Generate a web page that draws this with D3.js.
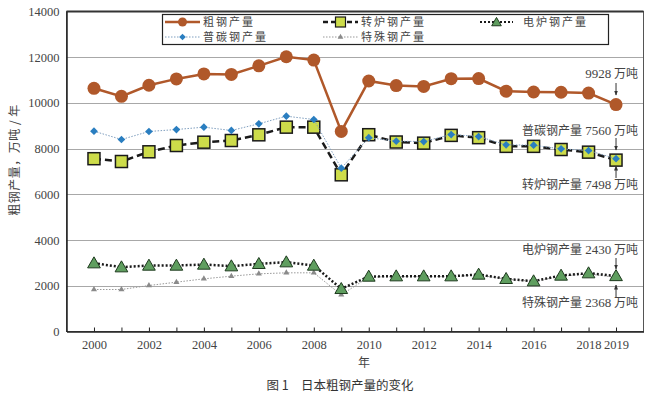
<!DOCTYPE html>
<html>
<head>
<meta charset="utf-8">
<script src="https://cdn.jsdelivr.net/npm/d3@7"></script>
<style>
	body { margin: 0; background: #fff; }
	.cn { font-family: "Noto Sans CJK SC", sans-serif; }
	.num { font-family: "Liberation Serif", "DejaVu Serif", serif; }
</style>
</head>
<body>
<div id="chart"></div>
<script>
// Data (万吨)
let years = [2000, 2001, 2002, 2003, 2004, 2005, 2006, 2007, 2008, 2009,
	2010, 2011, 2012, 2013, 2014, 2015, 2016, 2017, 2018, 2019];
let crude = [10640, 10287, 10774, 11051, 11268, 11247, 11622, 12020, 11874, 8753,
	10960, 10760, 10723, 11060, 11067, 10513, 10478, 10466, 10433, 9928];
let bof = [7560, 7437, 7862, 8137, 8282, 8356, 8605, 8940, 8940, 6855,
	8610, 8290, 8240, 8580, 8480, 8100, 8100, 7962, 7846, 7498];
let ordinary = [8763, 8400, 8750, 8837, 8940, 8794, 9087, 9420, 9275, 7144,
	8480, 8326, 8312, 8618, 8531, 8170, 8150, 7990, 7918, 7560];
let eaf = [2989, 2814, 2887, 2887, 2931, 2858, 2960, 3033, 2887, 1866,
	2406, 2420, 2420, 2420, 2494, 2304, 2202, 2450, 2552, 2430];
let special = [1837, 1837, 2012, 2158, 2304, 2421, 2523, 2567, 2567, 1604,
	2380, 2400, 2400, 2400, 2470, 2290, 2190, 2420, 2520, 2368];
let yTicks = [0, 2000, 4000, 6000, 8000, 10000, 12000, 14000];
let xLabels = [2000, 2002, 2004, 2006, 2008, 2010, 2012, 2014, 2016, 2018, 2019];

let names = ["粗钢产量", "转炉钢产量", "电炉钢产量", "普碳钢产量", "特殊钢产量"];

let W = 654, H = 399;
let margin = {top: 11.5, right: 10.5, bottom: 67.5, left: 66.5};

let svg = d3.select("#chart").append("svg")
	.attr("width", W)
	.attr("height", H);

svg.append("rect").attr("width", W).attr("height", H).attr("fill", "#fff");

let x = d3.scaleLinear()
	.domain([1999, 2020])
	.range([margin.left, W - margin.right]);

let y = d3.scaleLinear()
	.domain([0, 14000])
	.range([H - margin.bottom, margin.top]);

// gridlines
svg.append("g")
	.selectAll("line")
	.data(yTicks.slice(1, -1))
	.enter()
	.append("line")
	.attr("x1", margin.left)
	.attr("x2", W - margin.right)
	.attr("y1", d => Math.round(y(d)) + 0.5)
	.attr("y2", d => Math.round(y(d)) + 0.5)
	.attr("stroke", "#a8a8a8")
	.attr("stroke-width", 1);

// plot frame
svg.append("rect")
	.attr("x", margin.left)
	.attr("y", margin.top)
	.attr("width", W - margin.right - margin.left)
	.attr("height", H - margin.bottom - margin.top)
	.attr("fill", "none")
	.attr("stroke", "#555")
	.attr("stroke-width", 1);
svg.append("line")
	.attr("x1", margin.left).attr("x2", W - margin.right)
	.attr("y1", margin.top).attr("y2", margin.top)
	.attr("stroke", "#333").attr("stroke-width", 2);

// y axis
let yAxis = d3.axisLeft(y)
	.tickValues(yTicks)
	.tickSize(0)
	.tickPadding(7)
	.tickFormat(d3.format("d"));

let gy = svg.append("g")
	.attr("transform", "translate(" + margin.left + ",0)")
	.call(yAxis);
gy.select(".domain").attr("stroke", "#222").attr("stroke-width", 1.5);
gy.selectAll("text")
	.attr("class", "num")
	.attr("font-size", 12.5)
	.attr("fill", "#444");

// x axis
let xAxis = d3.axisBottom(x)
	.tickValues(years)
	.tickSizeInner(-4)
	.tickSizeOuter(0)
	.tickPadding(9)
	.tickFormat(d => xLabels.includes(d) ? d : "");

let gx = svg.append("g")
	.attr("transform", "translate(0," + (H - margin.bottom) + ")")
	.call(xAxis);
gx.select(".domain").attr("stroke", "#222").attr("stroke-width", 1.5);
gx.selectAll("line").attr("stroke", "#222");
gx.selectAll("text")
	.attr("class", "num")
	.attr("font-size", 12.5)
	.attr("fill", "#444");

// axis titles
svg.append("text")
	.attr("class", "cn")
	.attr("transform", "translate(19,160)rotate(-90)")
	.attr("text-anchor", "middle")
	.attr("font-size", 12)
	.attr("letter-spacing", 0.5)
	.attr("fill", "#444")
	.text("粗钢产量，万吨 / 年");

svg.append("text")
	.attr("class", "cn")
	.attr("x", 364)
	.attr("y", 367)
	.attr("text-anchor", "middle")
	.attr("font-size", 12)
	.attr("fill", "#444")
	.text("年");

svg.append("text")
	.attr("class", "cn")
	.attr("x", 340)
	.attr("y", 390)
	.attr("text-anchor", "middle")
	.attr("font-size", 12.5)
	.attr("fill", "#333")
	.text("图 1　日本粗钢产量的变化");

// line generator
function lineOf(vals) {
	return d3.line()
		.x((d, i) => x(years[i]))
		.y(d => y(d))(vals);
}

// crude steel
svg.append("path")
	.attr("d", lineOf(crude))
	.attr("fill", "none")
	.attr("stroke", "#b0582a")
	.attr("stroke-width", 2.5);
svg.append("g").selectAll("circle")
	.data(crude)
	.enter()
	.append("circle")
	.attr("cx", (d, i) => x(years[i]))
	.attr("cy", d => y(d))
	.attr("r", 6.5)
	.attr("fill", "#b0582a");

// BOF steel
svg.append("path")
	.attr("d", lineOf(bof))
	.attr("fill", "none")
	.attr("stroke", "#1a1a1a")
	.attr("stroke-width", 2.5)
	.attr("stroke-dasharray", "7,4");
svg.append("g").selectAll("rect")
	.data(bof)
	.enter()
	.append("rect")
	.attr("x", (d, i) => x(years[i]) - 6)
	.attr("y", d => y(d) - 6)
	.attr("width", 12)
	.attr("height", 12)
	.attr("fill", "#cddc4a")
	.attr("stroke", "#1a1a1a")
	.attr("stroke-width", 1.5);

// ordinary carbon steel (rotated squares)
svg.append("path")
	.attr("d", lineOf(ordinary))
	.attr("fill", "none")
	.attr("stroke", "#7f9fbf")
	.attr("stroke-width", 1)
	.attr("stroke-dasharray", "1.5,1.5");
svg.append("g").selectAll("path")
	.data(ordinary)
	.enter()
	.append("path")
	.attr("d", d3.symbol().type(d3.symbolSquare).size(30))
	.attr("transform", (d, i) => "translate(" + x(years[i]) + "," + y(d) + ")rotate(45)")
	.attr("fill", "#2a7ec0");

// special steel
svg.append("path")
	.attr("d", lineOf(special))
	.attr("fill", "none")
	.attr("stroke", "#999")
	.attr("stroke-width", 1)
	.attr("stroke-dasharray", "1.5,1.5");
svg.append("g").selectAll("path")
	.data(special)
	.enter()
	.append("path")
	.attr("d", d3.symbol().type(d3.symbolTriangle).size(16))
	.attr("transform", (d, i) => "translate(" + x(years[i]) + "," + y(d) + ")")
	.attr("fill", "#8a8a8a");

// EAF steel
svg.append("path")
	.attr("d", lineOf(eaf))
	.attr("fill", "none")
	.attr("stroke", "#1a1a1a")
	.attr("stroke-width", 2.5)
	.attr("stroke-dasharray", "2,2");
svg.append("g").selectAll("path")
	.data(eaf)
	.enter()
	.append("path")
	.attr("d", d3.symbol().type(d3.symbolTriangle).size(70))
	.attr("transform", (d, i) => "translate(" + x(years[i]) + "," + (y(d) + 1) + ")")
	.attr("fill", "#5f9e5f")
	.attr("stroke", "#1e3a1e")
	.attr("stroke-width", 1);

// legend
let legend = svg.append("g");
legend.append("rect")
	.attr("x", 162.5).attr("y", 14.5)
	.attr("width", 446).attr("height", 30)
	.attr("fill", "#fff")
	.attr("stroke", "#222")
	.attr("stroke-width", 1.2);

let legItems = [
	{x: 165, y: 22, w: 35},
	{x: 323, y: 22, w: 35},
	{x: 480, y: 22, w: 33},
	{x: 165, y: 37, w: 35},
	{x: 323, y: 37, w: 35}
];

function legLine(it, color, width, dash) {
	legend.append("line")
		.attr("x1", it.x).attr("x2", it.x + it.w)
		.attr("y1", it.y).attr("y2", it.y)
		.attr("stroke", color)
		.attr("stroke-width", width)
		.attr("stroke-dasharray", dash);
}
let cx = it => it.x + it.w / 2;

legLine(legItems[0], "#b0582a", 2.5, null);
legend.append("circle").attr("cx", cx(legItems[0])).attr("cy", legItems[0].y)
	.attr("r", 4.5).attr("fill", "#b0582a");

legLine(legItems[1], "#1a1a1a", 2.5, "5,3");
legend.append("rect").attr("x", cx(legItems[1]) - 5).attr("y", legItems[1].y - 5)
	.attr("width", 10).attr("height", 10)
	.attr("fill", "#cddc4a").attr("stroke", "#1a1a1a").attr("stroke-width", 1.2);

legLine(legItems[2], "#1a1a1a", 2, "2,2");
legend.append("path").attr("d", d3.symbol().type(d3.symbolTriangle).size(40))
	.attr("transform", "translate(" + cx(legItems[2]) + "," + (legItems[2].y + 1) + ")")
	.attr("fill", "#5f9e5f").attr("stroke", "#1e3a1e").attr("stroke-width", 1);

legLine(legItems[3], "#7f9fbf", 1, "1.5,1.5");
legend.append("path").attr("d", d3.symbol().type(d3.symbolSquare).size(22))
	.attr("transform", "translate(" + cx(legItems[3]) + "," + legItems[3].y + ")rotate(45)")
	.attr("fill", "#2a7ec0");

legLine(legItems[4], "#999", 1, "1.5,1.5");
legend.append("path").attr("d", d3.symbol().type(d3.symbolTriangle).size(14))
	.attr("transform", "translate(" + cx(legItems[4]) + "," + legItems[4].y + ")")
	.attr("fill", "#8a8a8a");

legend.selectAll(".legtext")
	.data(names)
	.enter()
	.append("text")
	.attr("class", "cn")
	.attr("x", (d, i) => legItems[i].x + legItems[i].w + (i == 2 ? 10 : 3))
	.attr("y", (d, i) => legItems[i].y + 4)
	.attr("font-size", 11)
	.attr("letter-spacing", 2)
	.attr("fill", "#444")
	.text(d => d);

// annotations for 2019
let last = years.length - 1;
let ax = x(years[last]);
let notes = [
	{text: "9928 万吨", val: crude[last], ty: 78, a1: 83, a2: 95},
	{text: "普碳钢产量 7560 万吨", val: ordinary[last], ty: 135, a1: 138, a2: 150},
	{text: "转炉钢产量 7498 万吨", val: bof[last], ty: 189, a1: 178, a2: 166},
	{text: "电炉钢产量 2430 万吨", val: eaf[last], ty: 254, a1: 258, a2: 269},
	{text: "特殊钢产量 2368 万吨", val: special[last], ty: 307, a1: 297, a2: 285}
];

svg.append("defs").append("marker")
	.attr("id", "arr")
	.attr("viewBox", "0 0 10 10")
	.attr("refX", 9).attr("refY", 5)
	.attr("markerWidth", 5).attr("markerHeight", 6)
	.attr("orient", "auto")
	.append("path")
	.attr("d", "M0,1 L10,5 L0,9 Z")
	.attr("fill", "#333");

let ann = svg.append("g");
ann.selectAll("line")
	.data(notes)
	.enter()
	.append("line")
	.attr("x1", ax).attr("x2", ax)
	.attr("y1", d => d.a1).attr("y2", d => d.a2)
	.attr("stroke", "#333")
	.attr("stroke-width", 1)
	.attr("marker-end", "url(#arr)");

ann.selectAll("text")
	.data(notes)
	.enter()
	.append("text")
	.attr("x", 638)
	.attr("y", d => d.ty)
	.attr("text-anchor", "end")
	.attr("font-size", 12)
	.attr("fill", "#444")
	.each(function(d) {
		let parts = d.text.split(" ");
		let t = d3.select(this);
		parts.forEach((p, i) => {
			t.append("tspan")
				.attr("class", /^\d+$/.test(p) ? "num" : "cn")
				.attr("font-size", /^\d+$/.test(p) ? 13 : 12)
				.text((i > 0 ? " " : "") + p);
		});
	});
</script>
</body>
</html>
